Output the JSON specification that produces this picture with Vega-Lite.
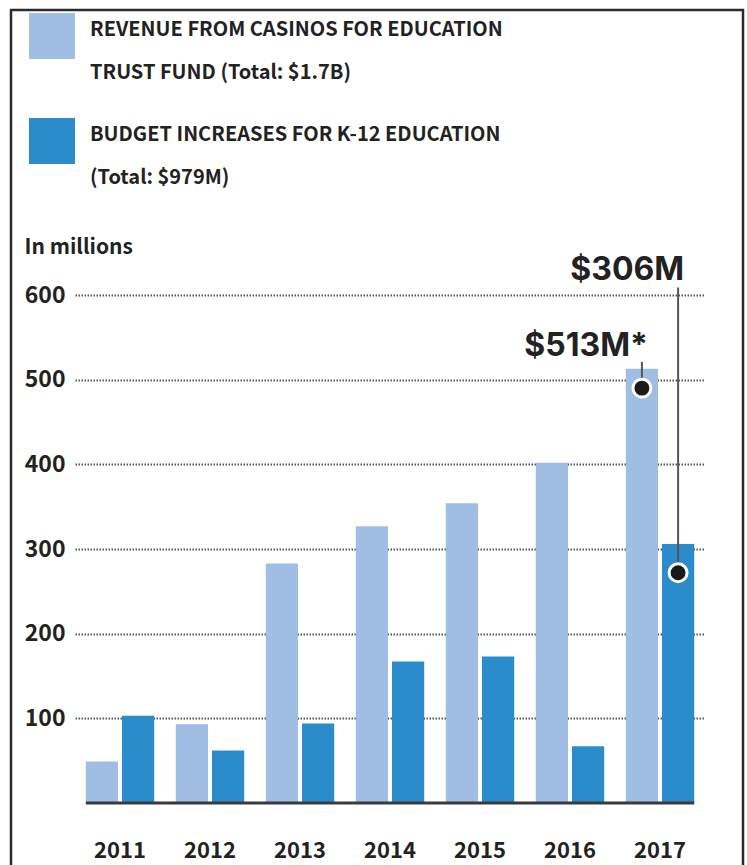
{
  "$schema": "https://vega.github.io/schema/vega-lite/v6.json",
  "autosize": {"type": "none"},
  "padding": {"left": 11, "top": 10, "right": 4, "bottom": 0},
  "width": 732,
  "height": 855,
  "background": "white",
  "config": {
    "view": {"stroke": "#2a2a2a", "strokeWidth": 2.5, "strokeDash": [1587, 732, 855]},
    "font": "Noto Sans CJK SC, DejaVu Sans Condensed, sans-serif"
  },
  "datasets": {
    "bars": [
      {"year": "2011", "series": "casino", "value": 49},
      {"year": "2011", "series": "budget", "value": 103},
      {"year": "2012", "series": "casino", "value": 93},
      {"year": "2012", "series": "budget", "value": 62},
      {"year": "2013", "series": "casino", "value": 283},
      {"year": "2013", "series": "budget", "value": 94},
      {"year": "2014", "series": "casino", "value": 327},
      {"year": "2014", "series": "budget", "value": 167},
      {"year": "2015", "series": "casino", "value": 354},
      {"year": "2015", "series": "budget", "value": 173},
      {"year": "2016", "series": "casino", "value": 402},
      {"year": "2016", "series": "budget", "value": 67},
      {"year": "2017", "series": "casino", "value": 513},
      {"year": "2017", "series": "budget", "value": 306}
    ],
    "notes": [
      {"year": "2017", "series": "casino", "label": "$513M*", "textY": 528, "lineTop": 521, "dotY": 490},
      {"year": "2017", "series": "budget", "label": "$306M", "textY": 618, "lineTop": 609, "dotY": 272}
    ]
  },
  "layer": [
    {
      "data": {"name": "bars"},
      "mark": {"type": "bar"},
      "encoding": {
        "x": {
          "field": "year", "type": "nominal",
          "scale": {"range": [64, 694], "paddingInner": 0.24, "paddingOuter": 0.12},
          "axis": {"orient": "bottom", "offset": -62, "domain": false, "ticks": false, "grid": false, "labelPadding": 54, "labelBaseline": "alphabetic", "labelAngle": 0, "labelFontSize": 22, "labelFontWeight": "bold", "labelColor": "#222222", "title": null}
        },
        "xOffset": {
          "field": "series", "type": "nominal",
          "scale": {"domain": ["casino", "budget"], "paddingInner": 0.11, "paddingOuter": 0}
        },
        "y": {
          "field": "value", "type": "quantitative",
          "scale": {"domain": [0, 600], "range": [793, 285], "nice": false},
          "axis": {"values": [100, 200, 300, 400, 500, 600], "offset": -64, "ticks": false, "domain": false, "labelPadding": 10, "labelFontSize": 23, "labelFontWeight": "bold", "labelColor": "#222222", "grid": true, "gridColor": "#555555", "gridDash": [1.5, 1.5], "gridWidth": 2, "title": "In millions", "titleAngle": 0, "titleX": -51, "titleY": 243, "titleAlign": "left", "titleBaseline": "alphabetic", "titleFontSize": 21, "titleFontWeight": "bold", "titleColor": "#222222"}
        },
        "color": {
          "field": "series", "type": "nominal",
          "scale": {"domain": ["casino", "budget"], "range": ["#a0bde3", "#2b8ccc"]},
          "legend": {
            "orient": "none", "legendX": 18, "legendY": 3, "title": null, "padding": 0,
            "symbolType": "square", "symbolSize": 2116, "symbolStrokeWidth": 0, "symbolOpacity": 1,
            "labelOffset": 15, "labelFontSize": 20, "labelFontWeight": "bold", "labelColor": "#222222",
            "labelBaseline": "alphabetic", "labelLimit": 700, "rowPadding": 35,
            "labelExpr": "datum.value === 'casino' ? ['REVENUE FROM CASINOS FOR EDUCATION', 'TRUST FUND (Total: $1.7B)'] : ['BUDGET INCREASES FOR K-12 EDUCATION', '(Total: $979M)']",
            "encode": {"labels": {"update": {"lineHeight": {"value": 43}}}}
          }
        }
      }
    },
    {
      "data": {"values": [{}]},
      "mark": {"type": "rule", "color": "#3a3a3a", "strokeWidth": 3},
      "encoding": {
        "x": {"datum": "2011", "type": "nominal", "bandPosition": 0},
        "x2": {"datum": "2017", "bandPosition": 1},
        "y": {"datum": 0, "type": "quantitative"}
      }
    },
    {
      "data": {"name": "notes"},
      "mark": {"type": "rule", "color": "#555555", "strokeWidth": 2},
      "encoding": {
        "x": {"field": "year", "type": "nominal"},
        "xOffset": {"field": "series", "type": "nominal"},
        "y": {"field": "dotY", "type": "quantitative"},
        "y2": {"field": "lineTop"}
      }
    },
    {
      "data": {"name": "notes"},
      "mark": {"type": "point", "filled": true, "fill": "#1a1a1a", "stroke": "white", "strokeWidth": 3, "size": 320, "opacity": 1},
      "encoding": {
        "x": {"field": "year", "type": "nominal"},
        "xOffset": {"field": "series", "type": "nominal"},
        "y": {"field": "dotY", "type": "quantitative"}
      }
    },
    {
      "data": {"name": "notes"},
      "mark": {"type": "text", "align": "right", "baseline": "alphabetic", "dx": 6, "font": "Inter", "fontWeight": "bold", "fontSize": 32, "color": "#222222"},
      "encoding": {
        "x": {"field": "year", "type": "nominal"},
        "xOffset": {"field": "series", "type": "nominal"},
        "y": {"field": "textY", "type": "quantitative"},
        "text": {"field": "label"}
      }
    }
  ]
}
